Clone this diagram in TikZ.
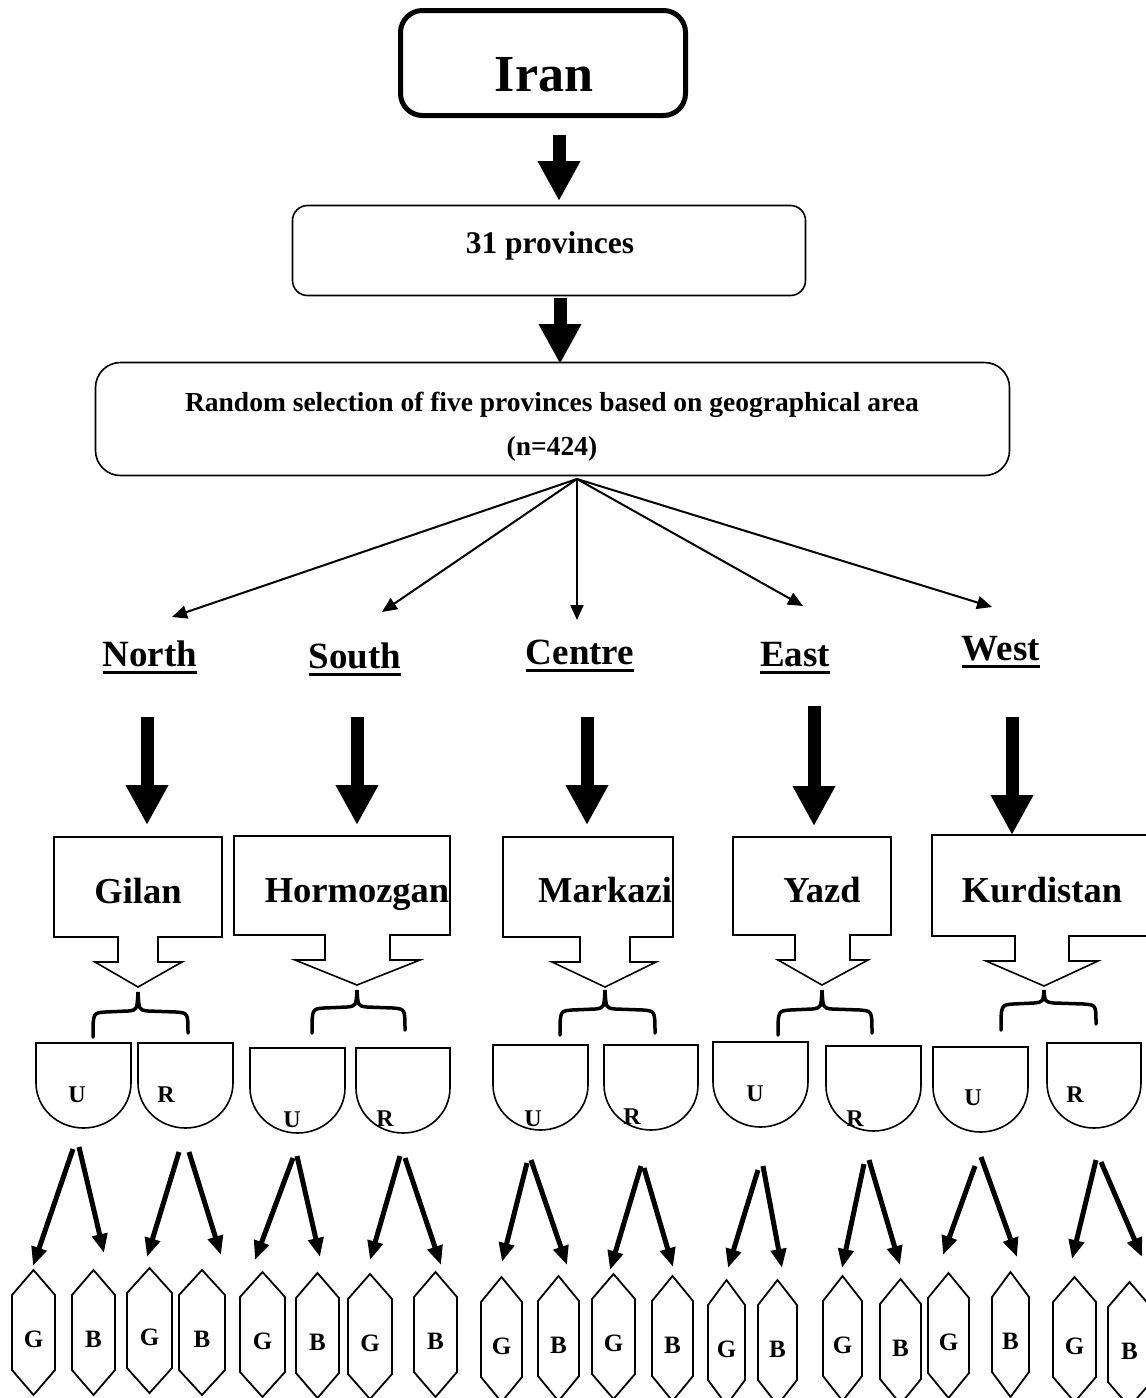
\documentclass[tikz,border=0pt]{standalone}
\usepackage{fontspec}
\setmainfont{Liberation Serif}
\usetikzlibrary{arrows.meta}
\begin{document}
\begin{tikzpicture}[x=1pt,y=-1pt,
  thinbox/.style={draw, line width=1.6pt, inner sep=0pt},
  txt/.style={inner sep=0pt, anchor=base, font=\bfseries},
  region/.style={inner sep=0pt, anchor=base, font=\fontsize{37}{40}\selectfont\bfseries},
  provname/.style={inner sep=0pt, anchor=base, font=\fontsize{36.5}{40}\selectfont\bfseries},
  urlab/.style={inner sep=0pt, anchor=base, font=\fontsize{24}{26}\selectfont\bfseries},
  gblab/.style={inner sep=0pt, anchor=base, font=\fontsize{25}{27}\selectfont\bfseries},
  ulinestyle/.style={line width=3pt},
  blockarrow/.style={line width=13pt, -{Triangle[length=40pt,width=40pt]}},
  fanarrow/.style={line width=2pt, -{Triangle[length=15pt,width=13pt]}},
  smallarrow/.style={line width=5pt, -{Triangle[length=19pt,width=15pt]}},
  calloutline/.style={line width=1.6pt, line join=miter},
  shieldline/.style={line width=1.6pt},
  hexline/.style={line width=1.8pt, line join=miter},
  braceline/.style={line width=3.5pt, line cap=round}
]
\useasboundingbox (0,0) rectangle (1146,1398);
\clip (0,0) rectangle (1146,1398);

% ---------- top boxes ----------
\node[draw, line width=5pt, rounded corners=22pt, minimum width=285pt, minimum height=105pt, inner sep=0pt] (iran) at (543,63) {};
\node[txt, font=\fontsize{52}{60}\selectfont\bfseries] (irantext) at (544,91) {Iran};

\node[thinbox, rounded corners=15pt, minimum width=513pt, minimum height=90pt] (prov) at (549,250.5) {};
\node[txt, font=\fontsize{31.5}{36}\selectfont\bfseries] (provtext) at (550,253) {31 provinces};

\node[thinbox, rounded corners=25pt, minimum width=914pt, minimum height=113pt] (rand) at (552.5,419) {};
\node[txt, font=\fontsize{27.5}{30}\selectfont\bfseries] (randtext) at (552,411) {Random selection of five provinces based on geographical area};
\node[txt, font=\fontsize{27.5}{30}\selectfont\bfseries] (ntext) at (552,455) {(n=424)};

\coordinate (a1s) at (559,135);
\coordinate (a1e) at (559,201);
\draw[blockarrow] (a1s) -- (a1e);
\coordinate (a2s) at (560,298);
\coordinate (a2e) at (560,364);
\draw[blockarrow] (a2s) -- (a2e);

% ---------- regions ----------
\coordinate (fan) at (577,479);
\node[region] (north) at (150,666) {North};
\node[region] (south) at (355,668) {South};
\node[region] (centre) at (580,664) {Centre};
\node[region] (east) at (795,666) {East};
\node[region] (west) at (1001,660) {West};
\foreach \n in {north,south,centre,east,west}
  \draw[ulinestyle] ([yshift=-6.5pt]\n.base west) -- ([yshift=-6.5pt]\n.base east);

\coordinate (fN) at (172,617);
\coordinate (fS) at (382,612);
\coordinate (fC) at (577,620);
\coordinate (fE) at (803,606);
\coordinate (fW) at (992,607);
\foreach \t in {fN,fS,fC,fE,fW}
  \draw[fanarrow] (fan) -- (\t);

% block arrows from regions to provinces
\foreach \cx/\ya/\yb [count=\i] in {147/717/825, 357/717/825, 587/717/825, 814/706/826, 1012/717/835}{
  \coordinate (bs\i) at (\cx,\ya);
  \coordinate (be\i) at (\cx,\yb);
  \draw[blockarrow] (bs\i) -- (be\i);
}

% ---------- province callout boxes ----------
\newcommand\calloutbox[9]{%
  \draw[calloutline] (#1,#3) -- (#2,#3) -- (#2,#4) -- (#6,#4) -- (#6,#4+25) -- (#8,#4+25)
    -- (#9,#4+50) -- (#7,#4+25) -- (#5,#4+25) -- (#5,#4) -- (#1,#4) -- cycle;}
\calloutbox{54}{222}{837}{937}{118}{158}{95}{182}{138}
\calloutbox{234}{450}{836}{935}{325}{390}{295}{420}{357}
\calloutbox{503}{673}{837}{937}{580}{630}{552}{656}{605}
\calloutbox{733}{891}{837}{935}{795}{850}{778}{868}{822}
\calloutbox{932}{1152}{835}{936}{1015}{1069}{986}{1098}{1044}

\node[provname] (gilan) at (138,903) {Gilan};
\node[provname] (hormozgan) at (357,902) {Hormozgan};
\node[provname] (markazi) at (605,902) {Markazi};
\node[provname] (yazd) at (822,902) {Yazd};
\node[provname] (kurdistan) at (1042,902) {Kurdistan};

% ---------- braces ----------
\foreach \ax/\ay/\arm/\lx/\rx/\le/\re in {138/992/1012/93/188/1037/1033,
    357/990/1008/312/405/1033/1030, 605/990/1010/560/655/1035/1033,
    822/990/1010/778/872/1035/1033, 1044/990/1004/1001/1096/1030/1024}{
  \draw[braceline] (\lx,\le) .. controls (\lx,\arm+1) .. (\lx+12,\arm)
    -- (\ax-10,\arm-1) .. controls (\ax-1,\arm-2) .. (\ax,\ay)
    .. controls (\ax+1,\arm-2) .. (\ax+10,\arm-1)
    -- (\rx-12,\arm) .. controls (\rx,\arm+1) .. (\rx,\re);
}

% ---------- U / R shields ----------
\foreach \xa/\xb/\yt/\lx/\ly/\lbl [count=\i] in {
    36/131/1043/77/1102/U, 138/233/1043/166/1102/R,
    250/345/1048/292/1127/U, 356/450/1048/385/1126/R,
    493/588/1045/533/1126/U, 604/698/1045/632/1124/R,
    713/808/1042/755/1101/U, 826/921/1046/855/1126/R,
    933/1028/1047/973/1105/U, 1047/1141/1043/1075/1102/R}{
  \draw[shieldline] (\xa,\yt) -- (\xb,\yt) -- (\xb,\yt+40)
    .. controls (\xb,\yt+65) and ({(\xa+\xb)/2+26},\yt+85) .. ({(\xa+\xb)/2},\yt+85)
    .. controls ({(\xa+\xb)/2-26},\yt+85) and (\xa,\yt+65) .. (\xa,\yt+40) -- cycle;
  \node[urlab] (s\i) at (\lx,\ly) {\lbl};
}

% ---------- arrows to hexagons ----------
\foreach \ax/\ay/\bx/\by [count=\i] in {
    73/1149/33/1266, 79/1147/104/1253, 179/1152/147/1257, 189/1152/221/1255,
    293/1158/255/1260, 297/1156/320/1257, 400/1156/370/1260, 405/1158/441/1265,
    527/1163/502/1262, 531/1160/567/1265, 641/1166/610/1270, 644/1168/673/1267,
    758/1170/728/1268, 763/1166/782/1268, 864/1164/842/1268, 869/1160/900/1265,
    975/1166/943/1255, 981/1157/1017/1257, 1096/1160/1072/1259, 1101/1162/1142/1257}{
  \coordinate (as\i) at (\ax,\ay);
  \coordinate (ae\i) at (\bx,\by);
  \draw[smallarrow] (as\i) -- (ae\i);
}

% ---------- G / B hexagons ----------
\foreach \xa/\xb/\yt/\lbl [count=\i] in {
    12/55/1270/G, 72/115/1270/B, 127/172/1268/G, 179/225/1270/B,
    240/285/1272/G, 296/339/1273/B, 348/392/1274/G, 414/457/1272/B,
    481/522/1277/G, 538/579/1276/B, 592/635/1274/G, 652/693/1276/B,
    708/745/1280/G, 758/797/1280/B, 823/862/1276/G, 880/921/1279/B,
    928/969/1273/G, 992/1029/1272/B, 1053/1096/1277/G, 1108/1151/1282/B}{
  \draw[hexline] ({(\xa+\xb)/2},\yt) -- (\xb,\yt+25) -- (\xb,\yt+100)
    -- ({(\xa+\xb)/2},\yt+125) -- (\xa,\yt+100) -- (\xa,\yt+25) -- cycle;
  \node[gblab] (h\i) at ({(\xa+\xb)/2},\yt+77) {\lbl};
}
\end{tikzpicture}
\end{document}
